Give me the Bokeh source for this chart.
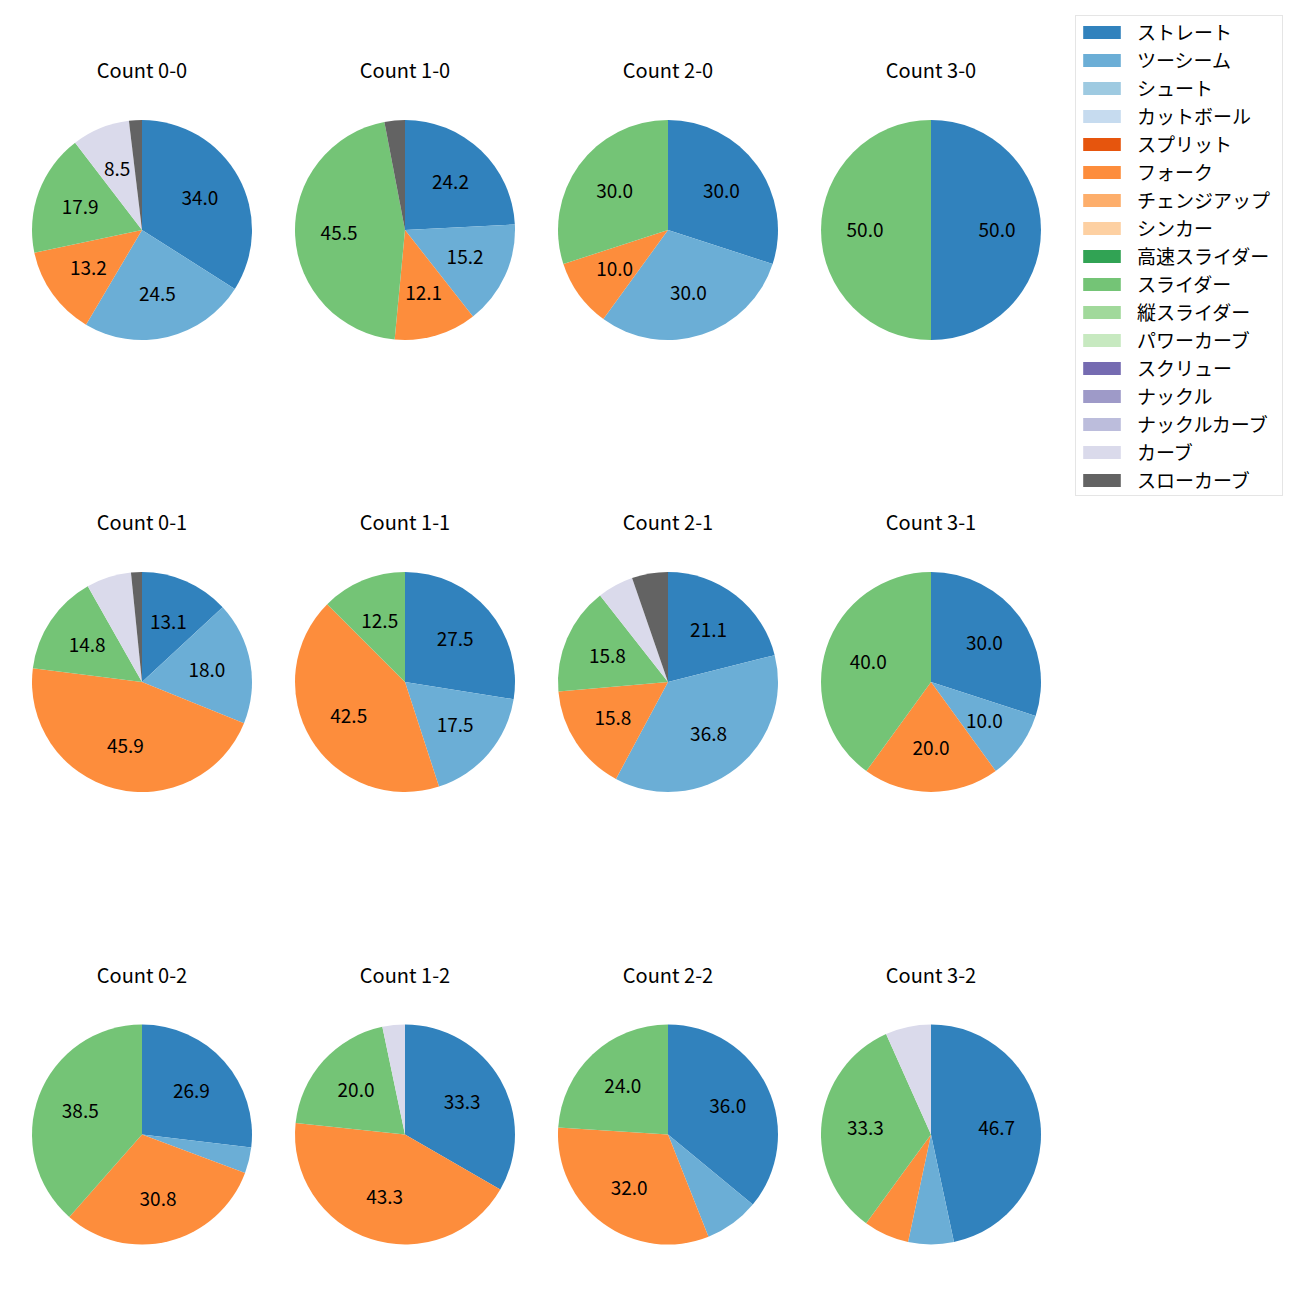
import math
from bokeh.plotting import figure
from bokeh.models import ColumnDataSource, Range1d, Legend, LegendItem
from bokeh.core.properties import value
from bokeh.embed import file_html
from bokeh.resources import INLINE

# ---------------- data ----------------
pitch_types = ["ストレート", "ツーシーム", "シュート", "カットボール", "スプリット", "フォーク",
               "チェンジアップ", "シンカー", "高速スライダー", "スライダー", "縦スライダー",
               "パワーカーブ", "スクリュー", "ナックル", "ナックルカーブ", "カーブ", "スローカーブ"]
pitch_colors = ["#3182bd", "#6baed6", "#9ecae1", "#c6dbef", "#e6550d", "#fd8d3c",
                "#fdae6b", "#fdd0a2", "#31a354", "#74c476", "#a1d99b", "#c7e9c0",
                "#756bb1", "#9e9ac8", "#bcbddc", "#dadaeb", "#636363"]

count_titles = ["Count 0-0", "Count 1-0", "Count 2-0", "Count 3-0",
                "Count 0-1", "Count 1-1", "Count 2-1", "Count 3-1",
                "Count 0-2", "Count 1-2", "Count 2-2", "Count 3-2"]

count_0_0 = [34.0, 24.5, 0, 0, 0, 13.2, 0, 0, 0, 17.9, 0, 0, 0, 0, 0, 8.5, 1.9]
count_1_0 = [24.2, 15.2, 0, 0, 0, 12.1, 0, 0, 0, 45.5, 0, 0, 0, 0, 0, 0, 3.0]
count_2_0 = [30.0, 30.0, 0, 0, 0, 10.0, 0, 0, 0, 30.0, 0, 0, 0, 0, 0, 0, 0]
count_3_0 = [50.0, 0, 0, 0, 0, 0, 0, 0, 0, 50.0, 0, 0, 0, 0, 0, 0, 0]
count_0_1 = [13.1, 18.0, 0, 0, 0, 45.9, 0, 0, 0, 14.8, 0, 0, 0, 0, 0, 6.6, 1.6]
count_1_1 = [27.5, 17.5, 0, 0, 0, 42.5, 0, 0, 0, 12.5, 0, 0, 0, 0, 0, 0, 0]
count_2_1 = [21.1, 36.8, 0, 0, 0, 15.8, 0, 0, 0, 15.8, 0, 0, 0, 0, 0, 5.3, 5.3]
count_3_1 = [30.0, 10.0, 0, 0, 0, 20.0, 0, 0, 0, 40.0, 0, 0, 0, 0, 0, 0, 0]
count_0_2 = [26.9, 3.8, 0, 0, 0, 30.8, 0, 0, 0, 38.5, 0, 0, 0, 0, 0, 0, 0]
count_1_2 = [33.3, 0, 0, 0, 0, 43.3, 0, 0, 0, 20.0, 0, 0, 0, 0, 0, 3.3, 0]
count_2_2 = [36.0, 8.0, 0, 0, 0, 32.0, 0, 0, 0, 24.0, 0, 0, 0, 0, 0, 0, 0]
count_3_2 = [46.7, 6.7, 0, 0, 0, 6.7, 0, 0, 0, 33.3, 0, 0, 0, 0, 0, 6.7, 0]

count_values = [count_0_0, count_1_0, count_2_0, count_3_0,
                count_0_1, count_1_1, count_2_1, count_3_1,
                count_0_2, count_1_2, count_2_2, count_3_2]

# ---------------- layout (page pixel coordinates) ----------------
PAGE = 1300
col_x = [141.5, 404.5, 667.5, 930.5]
row_y = [229.5, 681.5, 1134.0]
RADIUS = 110
TITLE_OFFSET = 160.5
LABEL_R = 0.6 * RADIUS
FONT = "Noto Sans CJK JP"
W = 1290
H = 1290
TOP = 8

p = figure(frame_width=W, frame_height=H, output_backend="svg", toolbar_location=None,
           x_range=Range1d(0, W), y_range=Range1d(PAGE - TOP - H, PAGE - TOP),
           min_border=0, min_border_left=0, min_border_right=0, min_border_top=TOP,
           min_border_bottom=0)
p.xaxis.visible = False
p.yaxis.visible = False
p.grid.visible = False
p.outline_line_color = None
p.background_fill_color = "white"
p.border_fill_color = "white"

wedge_data = {i: dict(x=[], y=[], start=[], end=[], r=[]) for i in range(len(pitch_types))}
lab = dict(x=[], y=[], t=[])
tit = dict(x=[], y=[], t=[])

for k, (title, vals) in enumerate(zip(count_titles, count_values)):
    cx = col_x[k % 4]
    cy = PAGE - row_y[k // 4]
    total = float(sum(vals))
    cum = 0.0
    for i, v in enumerate(vals):
        f0 = cum / total
        f1 = (cum + v) / total
        cum += v
        wedge_data[i]["x"].append(cx)
        wedge_data[i]["y"].append(cy)
        wedge_data[i]["start"].append(math.pi / 2 - 2 * math.pi * f1)
        wedge_data[i]["end"].append(math.pi / 2 - 2 * math.pi * f0)
        wedge_data[i]["r"].append(RADIUS if v > 0 else 0)
        pct = 100.0 * v / total
        if pct > 8.05:
            mid = math.pi / 2 - 2 * math.pi * (f0 + f1) / 2
            lab["x"].append(cx + LABEL_R * math.cos(mid))
            lab["y"].append(cy + LABEL_R * math.sin(mid))
            lab["t"].append(f"{pct:.1f}")
    tit["x"].append(cx)
    tit["y"].append(cy + TITLE_OFFSET)
    tit["t"].append(title)

items = []
for i, name in enumerate(pitch_types):
    src = ColumnDataSource(wedge_data[i])
    r = p.wedge(x="x", y="y", radius="r", start_angle="start", end_angle="end",
                source=src, fill_color=pitch_colors[i], line_color=None)
    items.append(LegendItem(label=name, renderers=[r]))

p.text(x="x", y="y", text="t", source=ColumnDataSource(lab), text_align="center",
       text_baseline="middle", text_font=value(FONT), text_font_size="19px", text_color="black")
p.text(x="x", y="y", text="t", source=ColumnDataSource(tit), text_align="center",
       text_baseline="middle", text_font=value(FONT), text_font_size="20px", text_color="black")

legend = Legend(items=items, location="top_right", margin=7, padding=2, spacing=1,
                glyph_width=47, glyph_height=16, label_standoff=12, label_width=143,
                label_height=26, label_text_font=FONT, label_text_font_size="19px",
                label_text_color="black", border_line_color="#cccccc", border_line_width=1,
                background_fill_color="white", background_fill_alpha=0.8)
p.add_layout(legend)

open("out.html", "w").write(file_html(p, INLINE))
